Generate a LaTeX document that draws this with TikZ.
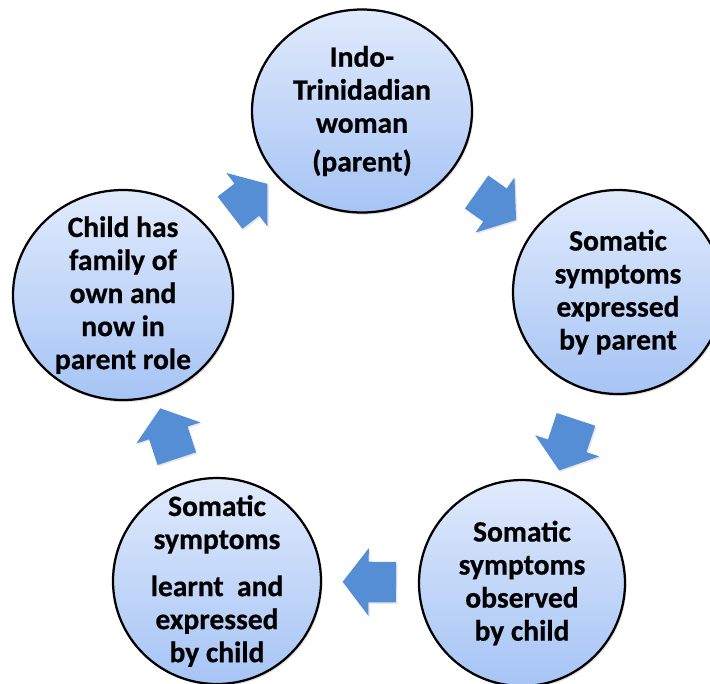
\documentclass[tikz,border=0pt]{standalone}
\usepackage{fontspec}
\setmainfont{Carlito}[BoldFeatures={FakeBold=0.6}]
\usetikzlibrary{shapes.geometric,shapes.arrows,calc,shadows}
\definecolor{cycleblue}{HTML}{558ED5}
\definecolor{bubbletop}{HTML}{E0EAFC}
\definecolor{bubblebot}{HTML}{A6C4F5}

\begin{document}
\begin{tikzpicture}[
    font=\fontsize{21}{23.5}\selectfont\bfseries,
    bubble/.style={ellipse,draw=black,line width=1.6pt,top color=bubbletop,bottom color=bubblebot,inner sep=0pt,
      drop shadow={opacity=0.25,shadow xshift=1pt,shadow yshift=-1.5pt}},
    bubbletext/.style={align=center,inner sep=0pt},
    flow/.style={single arrow,fill=cycleblue,draw=none,inner xsep=0pt,inner ysep=0.5cm,
      text height=0pt,text depth=0pt,text width=0pt,
      single arrow head extend=0.3375cm,single arrow tip angle=105,
      drop shadow={opacity=0.2,shadow xshift=1pt,shadow yshift=-1pt}}]
  \useasboundingbox (0,0) rectangle (17.75,-17.075);

  % the five stages
  \node[bubble,minimum width=5.5cm,minimum height=5.075cm] (parent) at (9.05,-2.775)
    {}; \node[bubbletext] (parenttxt) at (parent.center) {Indo-\\Trinidadian\\woman\\[4pt](parent)};
  \node[bubble,minimum width=5.25cm,minimum height=5.1cm] (expressed) at (15.45,-7.3)
    {}; \node[bubbletext] (expressedtxt) at (expressed.center) {Somatic\\symptoms\\expressed\\by parent};
  \node[bubble,minimum width=5.15cm,minimum height=5.15cm] (observed) at (13.05,-14.575)
    {}; \node[bubbletext] (observedtxt) at (observed.center) {Somatic\\symptoms\\observed\\by child};
  \node[bubble,minimum width=5.2cm,minimum height=5.15cm] (learnt) at (5.425,-14.525)
    {}; \node[bubbletext] (learnttxt) at (learnt.center) {Somatic\\symptoms\\[10pt]learnt~ and\\expressed\\by child};
  \node[bubble,minimum width=5.5cm,minimum height=5.25cm] (ownfamily) at (3.075,-7.375)
    {}; \node[bubbletext] (ownfamilytxt) at (ownfamily.center) {Child has\\family of\\own and\\now in\\parent role};

  % block arrows half way between the stages
  \path let \p1=($(expressed)-(parent)$), \n1={atan2(\y1,\x1)} in
    node[flow,minimum height=1.21cm,rotate=\n1] (toexpressed) at ($(parent)!0.5!(expressed)$) {};
  \path let \p1=($(observed)-(expressed)$), \n1={atan2(\y1,\x1)} in
    node[flow,minimum height=1.345cm,rotate=\n1] (toobserved) at ($(expressed)!0.5!(observed)$) {};
  \path let \p1=($(learnt)-(observed)$), \n1={atan2(\y1,\x1)} in
    node[flow,minimum height=1.335cm,rotate=\n1] (tolearnt) at ($(observed)!0.475!(learnt)$) {};
  \path let \p1=($(ownfamily)-(learnt)$), \n1={atan2(\y1,\x1)} in
    node[flow,minimum height=1.325cm,rotate=\n1] (toownfamily) at ($(learnt)!0.49!(ownfamily)$) {};
  \path let \p1=($(parent)-(ownfamily)$), \n1={atan2(\y1,\x1)} in
    node[flow,minimum height=1.18cm,rotate=\n1] (toparent) at ($(ownfamily)!0.5!(parent)$) {};
\end{tikzpicture}
\end{document}
